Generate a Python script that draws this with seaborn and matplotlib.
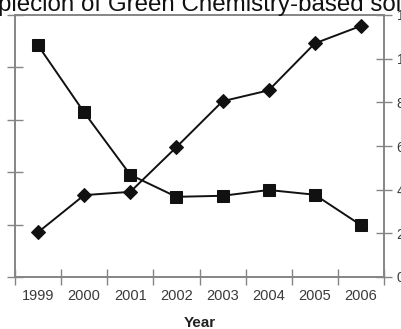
import numpy as np
import pandas as pd
import matplotlib
matplotlib.use("Agg")
import matplotlib.pyplot as plt
import seaborn as sns

# Data
years = [1999, 2000, 2001, 2002, 2003, 2004, 2005, 2006]
square_values = [44.2, 31.4, 19.5, 15.3, 15.5, 16.6, 15.7, 9.9]      # left axis
diamond_values = [2.05, 3.75, 3.9, 5.95, 8.05, 8.55, 10.7, 11.5]      # right axis
left_ticks = [0, 10, 20, 30, 40, 50]
right_ticks = [0, 2, 4, 6, 8, 10, 12]
right_tick_labels = ["0", "2", "4", "6", "8", "10", "12"]
title_text = "plecion of Green Chemistry-based sol"
x_title = "Year"

df = pd.DataFrame({"year": years, "squares": square_values, "diamonds": diamond_values})

sns.set_theme(style="white")
plt.rcParams["font.family"] = ["Liberation Sans", "DejaVu Sans"]

W, H = 401, 329
fig = plt.figure(figsize=(W / 100, H / 100), dpi=100)
fig.patch.set_facecolor("white")

left, right, top, bottom = 15, 384, 15, 277
ax = fig.add_axes([left / W, 1 - bottom / H, (right - left) / W, (bottom - top) / H])

spine_gray = "#858585"
text_gray = "#3a3a3a"

sns.lineplot(data=df, x="year", y="squares", ax=ax, color="#111111", linewidth=1.4,
             marker="s", markersize=9, markeredgecolor="#111111", markerfacecolor="#111111")
ax2 = ax.twinx()
sns.lineplot(data=df, x="year", y="diamonds", ax=ax2, color="#111111", linewidth=1.4,
             marker="D", markersize=7, markeredgecolor="#111111", markerfacecolor="#111111")

ax.set_xlim(1998.5, 2006.5)
ax.set_ylim(0, 50)
ax2.set_ylim(0, 12)

# x axis: tick marks at category boundaries, labels centred on categories
ax.set_xticks(np.arange(1998.5, 2007.0, 1.0))
ax.set_xticklabels([])
ax.set_xticks(years, minor=True)
ax.set_xticklabels([str(y) for y in years], minor=True)
ax.tick_params(axis="x", which="major", direction="inout", length=11, width=1,
               color=spine_gray, bottom=True, labelbottom=False)
ax.tick_params(axis="x", which="minor", length=0, pad=9, labelsize=10.5,
               labelcolor=text_gray, bottom=True)

ax.set_yticks(left_ticks)
ax.tick_params(axis="y", direction="inout", length=12, width=1, color=spine_gray,
               left=True, labelleft=False)

ax2.set_yticks(right_ticks)
ax2.set_yticklabels(right_tick_labels)
ax2.tick_params(axis="y", direction="inout", length=12, width=1, color=spine_gray,
                right=True, labelright=True, labelsize=10, labelcolor=text_gray, pad=3)

for a in (ax, ax2):
    for s in a.spines.values():
        s.set_color(spine_gray)
        s.set_linewidth(1.2)
    a.grid(False)
    a.set_facecolor("none")

ax.set_ylabel("")
ax2.set_ylabel("")
ax.set_xlabel(x_title, fontsize=11, fontweight="bold", color="#222222", labelpad=9)

fig.text(-2 / W, 1 - 11 / H, title_text, ha="left", va="baseline",
         fontsize=17.4, color="#111111")

fig.savefig("out.png", dpi=100, facecolor="white")
